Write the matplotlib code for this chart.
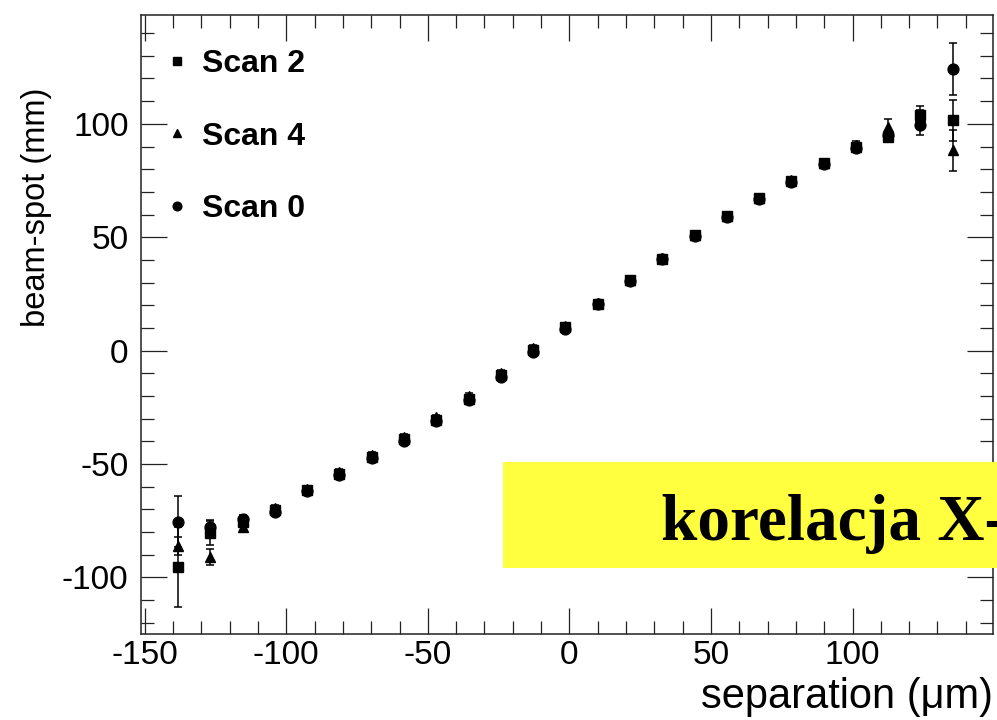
import matplotlib
matplotlib.use('Agg')
import matplotlib.pyplot as plt
from matplotlib import font_manager
from matplotlib.patches import Rectangle
from matplotlib.ticker import MultipleLocator

# beam separation steps (um)
separation = [-138.2, -126.8, -115.4, -104.0, -92.6, -81.2, -69.8, -58.4, -47.0,
              -35.6, -24.2, -12.8, -1.4, 10.0, 21.4, 32.8, 44.2, 55.6, 67.0,
              78.4, 89.8, 101.2, 112.6, 124.0, 135.4]

# fitted beam-spot position (mm) per scan
scan2 = [-95.4, -80.3, -75.8, -70.2, -61.4, -54.3, -46.8, -38.9, -30.5, -21.2,
         -10.6, 0.2, 10.3, 20.6, 31.0, 40.6, 50.8, 59.2, 67.1, 74.6, 82.6,
         90.0, 94.2, 103.7, 101.5]
scan2_err = [17.6, 5.5, 1.8, 1.5, 1.2, 1.2, 1.2, 1.2, 1.2, 1.2, 1.2, 1.2, 1.2,
             1.2, 1.2, 1.2, 1.2, 1.2, 1.2, 1.2, 1.5, 1.5, 2.0, 4.0, 9.0]

scan4 = [-86.0, -91.0, -78.0, -69.5, -61.0, -53.5, -46.0, -38.0, -29.5, -20.0,
         -9.8, 1.2, 11.0, 20.8, 31.0, 40.8, 51.0, 59.5, 67.5, 75.2, 82.8,
         90.8, 98.6, 103.0, 88.3]
scan4_err = [4.0, 3.5, 2.0, 1.5, 1.2, 1.2, 1.2, 1.2, 1.2, 1.2, 1.2, 1.2, 1.2,
             1.2, 1.2, 1.2, 1.2, 1.2, 1.2, 1.2, 1.5, 1.5, 3.5, 3.0, 9.0]

scan0 = [-75.5, -78.0, -74.5, -71.0, -62.0, -55.0, -47.5, -39.8, -31.2, -22.0,
         -11.5, -0.8, 9.5, 20.4, 30.8, 40.4, 50.5, 58.8, 66.8, 74.2, 82.2,
         89.5, 95.0, 99.6, 124.0]
scan0_err = [11.2, 3.0, 2.0, 1.5, 1.2, 1.2, 1.2, 1.2, 1.2, 1.2, 1.2, 1.2, 1.2,
             1.2, 1.2, 1.2, 1.2, 1.2, 1.2, 1.2, 1.5, 1.5, 2.0, 4.4, 11.5]

installed = {f.name for f in font_manager.fontManager.ttflist}
sans = 'Liberation Sans'
narrow = 'Liberation Sans Narrow' if 'Liberation Sans Narrow' in installed else sans
plt.rcParams['font.family'] = [sans, 'DejaVu Sans']
plt.rcParams['axes.unicode_minus'] = False

fig = plt.figure(figsize=(9.97, 7.2), dpi=100)
ax = fig.add_axes([141 / 997, 1 - 634 / 720, 851.7 / 997, 619 / 720])

# error bars first, markers on top
for y, e in [(scan0, scan0_err), (scan4, scan4_err), (scan2, scan2_err)]:
    ax.errorbar(separation, y, yerr=e, fmt='none', ecolor='black',
                elinewidth=1.1, capsize=2.6, capthick=1.1)

ax.plot(separation, scan0, 'o', color='black', ms=7.8, label='Scan 0')
ax.plot(separation, scan4, '^', color='black', ms=7.5, label='Scan 4')
ax.plot(separation, scan2, 's', color='black', ms=7.6, label='Scan 2')

ax.set_xlim(-151.3, 149.5)
ax.set_ylim(-125, 148)
ax.xaxis.set_major_locator(MultipleLocator(50))
ax.xaxis.set_minor_locator(MultipleLocator(10))
ax.yaxis.set_major_locator(MultipleLocator(50))
ax.yaxis.set_minor_locator(MultipleLocator(10))
ax.tick_params(which='both', direction='in', top=True, right=True,
               width=0.9, color='#222222')
ax.tick_params(which='major', length=19)
ax.tick_params(which='minor', length=9.5)
ax.tick_params(axis='x', labelsize=24, pad=4)
ax.tick_params(axis='y', labelsize=24, pad=9)
for lab in ax.get_xticklabels() + ax.get_yticklabels():
    lab.set_family([narrow, 'DejaVu Sans'])
for s in ax.spines.values():
    s.set_linewidth(1.1)
    s.set_color('#222222')

fig.text(37 / 997, 1 - 88 / 720, 'beam-spot (mm)', rotation=90, ha='center',
         va='top', fontsize=23.5, family=[narrow, 'DejaVu Sans'])
fig.text(993 / 997, 1 - 677 / 720, 'separation (\u03bcm)', ha='right', va='top',
         fontsize=30, family=[narrow, 'DejaVu Sans'])

handles, labels = ax.get_legend_handles_labels()
order = [2, 1, 0]
ax.legend([handles[i] for i in order], [labels[i] for i in order],
          loc='upper left', bbox_to_anchor=(0.027, 0.945), frameon=False,
          borderpad=0, borderaxespad=0, handlelength=0.8, handletextpad=0.4,
          labelspacing=1.33, markerscale=0.8,
          prop={'family': sans, 'weight': 'bold', 'size': 23})

# highlight box overlapping the plot, its caption running off the right edge
fig.add_artist(Rectangle((503 / 997, 1 - 568 / 720), 494 / 997, 106 / 720,
                         transform=fig.transFigure, facecolor='#ffff40',
                         edgecolor='none', zorder=10))
fig.text(661 / 997, 1 - 540 / 720, 'korelacja X-', ha='left', va='baseline',
         fontsize=47, fontweight='bold', family='Liberation Serif', zorder=11)

fig.savefig('out.png', dpi=100)
